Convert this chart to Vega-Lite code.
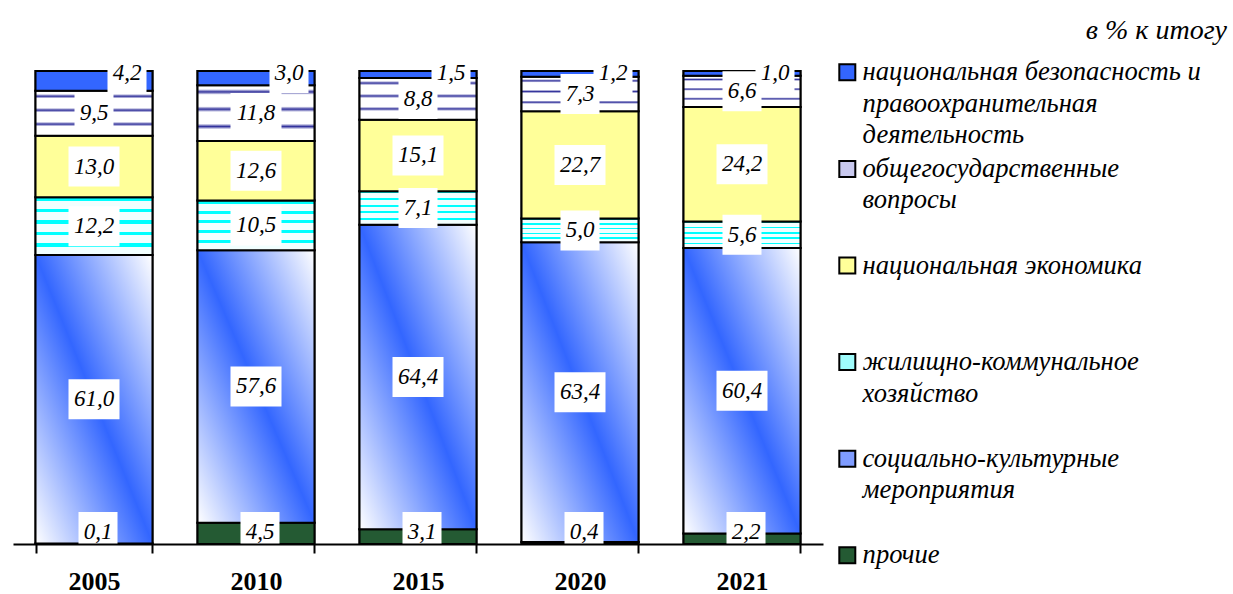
{
  "$schema": "https://vega.github.io/schema/vega-lite/v6.json",
  "width": 810,
  "height": 473,
  "padding": {"left": 13, "top": 17, "right": 5, "bottom": 2},
  "background": "white",
  "title": {
    "text": "в % к итогу",
    "anchor": "end",
    "font": "Liberation Serif",
    "fontSize": 28,
    "fontStyle": "italic",
    "fontWeight": "normal",
    "color": "black",
    "dx": 26,
    "offset": 8
  },
  "data": {
    "values": [
      {"year": "2005", "category": "прочие", "value": 0.1},
      {"year": "2005", "category": "социально-культурные мероприятия", "value": 61.0},
      {"year": "2005", "category": "жилищно-коммунальное хозяйство", "value": 12.2},
      {"year": "2005", "category": "национальная экономика", "value": 13.0},
      {"year": "2005", "category": "общегосударственные вопросы", "value": 9.5},
      {"year": "2005", "category": "национальная безопасность и правоохранительная деятельность", "value": 4.2},
      {"year": "2010", "category": "прочие", "value": 4.5},
      {"year": "2010", "category": "социально-культурные мероприятия", "value": 57.6},
      {"year": "2010", "category": "жилищно-коммунальное хозяйство", "value": 10.5},
      {"year": "2010", "category": "национальная экономика", "value": 12.6},
      {"year": "2010", "category": "общегосударственные вопросы", "value": 11.8},
      {"year": "2010", "category": "национальная безопасность и правоохранительная деятельность", "value": 3.0},
      {"year": "2015", "category": "прочие", "value": 3.1},
      {"year": "2015", "category": "социально-культурные мероприятия", "value": 64.4},
      {"year": "2015", "category": "жилищно-коммунальное хозяйство", "value": 7.1},
      {"year": "2015", "category": "национальная экономика", "value": 15.1},
      {"year": "2015", "category": "общегосударственные вопросы", "value": 8.8},
      {"year": "2015", "category": "национальная безопасность и правоохранительная деятельность", "value": 1.5},
      {"year": "2020", "category": "прочие", "value": 0.4},
      {"year": "2020", "category": "социально-культурные мероприятия", "value": 63.4},
      {"year": "2020", "category": "жилищно-коммунальное хозяйство", "value": 5.0},
      {"year": "2020", "category": "национальная экономика", "value": 22.7},
      {"year": "2020", "category": "общегосударственные вопросы", "value": 7.3},
      {"year": "2020", "category": "национальная безопасность и правоохранительная деятельность", "value": 1.2},
      {"year": "2021", "category": "прочие", "value": 2.2},
      {"year": "2021", "category": "социально-культурные мероприятия", "value": 60.4},
      {"year": "2021", "category": "жилищно-коммунальное хозяйство", "value": 5.6},
      {"year": "2021", "category": "национальная экономика", "value": 24.2},
      {"year": "2021", "category": "общегосударственные вопросы", "value": 6.6},
      {"year": "2021", "category": "национальная безопасность и правоохранительная деятельность", "value": 1.0}
    ]
  },
  "transform": [
    {"calculate": "indexof(['прочие', 'социально-культурные мероприятия', 'жилищно-коммунальное хозяйство', 'национальная экономика', 'общегосударственные вопросы', 'национальная безопасность и правоохранительная деятельность'], datum.category)", "as": "k"},
    {"stack": "value", "groupby": ["year"], "sort": [{"field": "k", "order": "ascending"}], "as": ["y0", "y1"]},
    {"calculate": "(datum.y0 + datum.y1) / 2", "as": "mid"},
    {"calculate": "replace(format(datum.value, '.1f'), '.', ',')", "as": "label"}
  ],
  "encoding": {
    "x": {
      "field": "year",
      "type": "ordinal",
      "scale": {"paddingInner": 0.278, "paddingOuter": 0.139},
      "axis": {
        "title": null,
        "labelAngle": 0,
        "labelFont": "Liberation Serif",
        "labelFontWeight": "bold",
        "labelFontSize": 26,
        "labelColor": "black",
        "labelPadding": 15,
        "domainColor": "black",
        "domainWidth": 2,
        "tickColor": "black",
        "tickWidth": 2,
        "tickSize": 9,
        "tickBand": "extent",
        "zindex": 1
      }
    }
  },
  "layer": [
    {
      "mark": {"type": "bar", "stroke": "black", "strokeWidth": 2},
      "encoding": {
        "y": {"field": "y0", "type": "quantitative", "scale": {"domain": [0, 100], "nice": false}, "axis": null},
        "y2": {"field": "y1"},
        "color": {
          "field": "category",
          "type": "nominal",
          "scale": {
            "domain": ["национальная безопасность и правоохранительная деятельность", "общегосударственные вопросы", "национальная экономика", "жилищно-коммунальное хозяйство", "социально-культурные мероприятия", "прочие"],
            "range": ["#3366ff", "#c9c9ef", "#ffff99", "#9ffcfc", "#7f9cff", "#245a33"]
          },
          "legend": {
            "title": null,
            "orient": "none",
            "legendX": 821,
            "legendY": -12,
            "padding": 0,
            "symbolType": "square",
            "symbolSize": 256,
            "symbolStrokeColor": "black",
            "symbolStrokeWidth": 2,
            "symbolOpacity": 1,
            "labelFont": "Liberation Serif",
            "labelFontStyle": "italic",
            "labelFontSize": 26.6,
            "labelColor": "black",
            "labelLimit": 500,
            "labelOffset": 2,
            "labelBaseline": "middle",
            "rowPadding": 6.6,
            "labelExpr": "datum.label == 'национальная безопасность и правоохранительная деятельность' ? ['национальная безопасность и', 'правоохранительная', 'деятельность'] : datum.label == 'общегосударственные вопросы' ? ['общегосударственные', 'вопросы', ''] : datum.label == 'национальная экономика' ? ['национальная экономика', '', ''] : datum.label == 'жилищно-коммунальное хозяйство' ? ['жилищно-коммунальное', 'хозяйство', ''] : datum.label == 'социально-культурные мероприятия' ? ['социально-культурные', 'мероприятия', ''] : [datum.label, '', '']",
            "encode": {"labels": {"update": {"lineHeight": {"value": 31.5}}}}
          }
        }
      }
    },
    {
      "mark": {"type": "bar", "stroke": "black", "strokeWidth": 2},
      "encoding": {
        "y": {"field": "y0", "type": "quantitative", "axis": null},
        "y2": {"field": "y1"},
        "fill": {
          "condition": [
            {"test": "datum.k === 0", "value": "#245a33"},
            {"test": "datum.k === 1", "value": {"gradient": "linear", "x1": 0, "y1": 1, "x2": 1, "y2": 0, "stops": [{"offset": 0, "color": "#ffffff"}, {"offset": 0.5, "color": "#3366ff"}, {"offset": 1, "color": "#ffffff"}]}},
            {"test": "datum.k === 2", "value": {"gradient": "linear", "x1": 0, "y1": 0, "x2": 0, "y2": 1, "stops": [
              {"offset": 0, "color": "#00ffff"}, {"offset": 0.06, "color": "#00ffff"}, {"offset": 0.06, "color": "#f2ffff"}, {"offset": 0.2, "color": "#f2ffff"},
              {"offset": 0.2, "color": "#00ffff"}, {"offset": 0.26, "color": "#00ffff"}, {"offset": 0.26, "color": "#f2ffff"}, {"offset": 0.4, "color": "#f2ffff"},
              {"offset": 0.4, "color": "#00ffff"}, {"offset": 0.46, "color": "#00ffff"}, {"offset": 0.46, "color": "#f2ffff"}, {"offset": 0.6, "color": "#f2ffff"},
              {"offset": 0.6, "color": "#00ffff"}, {"offset": 0.66, "color": "#00ffff"}, {"offset": 0.66, "color": "#f2ffff"}, {"offset": 0.8, "color": "#f2ffff"},
              {"offset": 0.8, "color": "#00ffff"}, {"offset": 0.86, "color": "#00ffff"}, {"offset": 0.86, "color": "#f2ffff"}, {"offset": 1, "color": "#f2ffff"}
            ]}},
            {"test": "datum.k === 4", "value": {"gradient": "linear", "x1": 0, "y1": 0, "x2": 0, "y2": 1, "stops": [
              {"offset": 0, "color": "#ffffff"}, {"offset": 0.07, "color": "#ffffff"}, {"offset": 0.12, "color": "#33339c"}, {"offset": 0.17, "color": "#ffffff"},
              {"offset": 0.38, "color": "#ffffff"}, {"offset": 0.43, "color": "#33339c"}, {"offset": 0.48, "color": "#ffffff"},
              {"offset": 0.69, "color": "#ffffff"}, {"offset": 0.74, "color": "#33339c"}, {"offset": 0.79, "color": "#ffffff"}, {"offset": 1, "color": "#ffffff"}
            ]}},
            {"test": "datum.k === 5", "value": "#3366ff"}
          ],
          "value": "#ffff99"
        }
      }
    },
    {
      "transform": [{"filter": "datum.k >= 1 && datum.k <= 4 && length(datum.label) == 3"}],
      "mark": {"type": "point", "shape": "M-0.975,-1H0.975V1H-0.975Z", "size": 1600, "filled": true, "fill": "white", "strokeWidth": 0, "opacity": 1},
      "encoding": {"y": {"field": "mid", "type": "quantitative", "axis": null}}
    },
    {
      "transform": [{"filter": "datum.k >= 1 && datum.k <= 4 && length(datum.label) == 4"}],
      "mark": {"type": "point", "shape": "M-1,-0.784H1V0.784H-1Z", "size": 2601, "filled": true, "fill": "white", "strokeWidth": 0, "opacity": 1},
      "encoding": {"y": {"field": "mid", "type": "quantitative", "axis": null}}
    },
    {
      "transform": [{"filter": "datum.k === 5"}],
      "mark": {"type": "point", "shape": "M0.675,-0.9H2.625V1.1H0.675Z", "size": 1600, "filled": true, "fill": "white", "strokeWidth": 0, "opacity": 1},
      "encoding": {"y": {"field": "y1", "type": "quantitative", "axis": null}}
    },
    {
      "transform": [{"filter": "datum.k === 0"}],
      "mark": {"type": "point", "shape": "M-0.775,-1.6H1.175V0.4H-0.775Z", "size": 1600, "filled": true, "fill": "white", "strokeWidth": 0, "opacity": 1},
      "encoding": {"y": {"field": "y0", "type": "quantitative", "axis": null}}
    },
    {
      "transform": [{"filter": "datum.k >= 1 && datum.k <= 4"}],
      "mark": {"type": "text", "font": "Liberation Serif", "fontStyle": "italic", "fontSize": 23, "color": "black", "baseline": "middle", "align": "center"},
      "encoding": {
        "y": {"field": "mid", "type": "quantitative", "axis": null},
        "text": {"field": "label"}
      }
    },
    {
      "transform": [{"filter": "datum.k === 5"}],
      "mark": {"type": "text", "font": "Liberation Serif", "fontStyle": "italic", "fontSize": 23, "color": "black", "baseline": "middle", "align": "center", "dx": 33, "dy": 2},
      "encoding": {
        "y": {"field": "y1", "type": "quantitative", "axis": null},
        "text": {"field": "label"}
      }
    },
    {
      "transform": [{"filter": "datum.k === 0"}],
      "mark": {"type": "text", "font": "Liberation Serif", "fontStyle": "italic", "fontSize": 23, "color": "black", "baseline": "middle", "align": "center", "dx": 4, "dy": -12},
      "encoding": {
        "y": {"field": "y0", "type": "quantitative", "axis": null},
        "text": {"field": "label"}
      }
    }
  ],
  "config": {
    "view": {"stroke": null}
  }
}
